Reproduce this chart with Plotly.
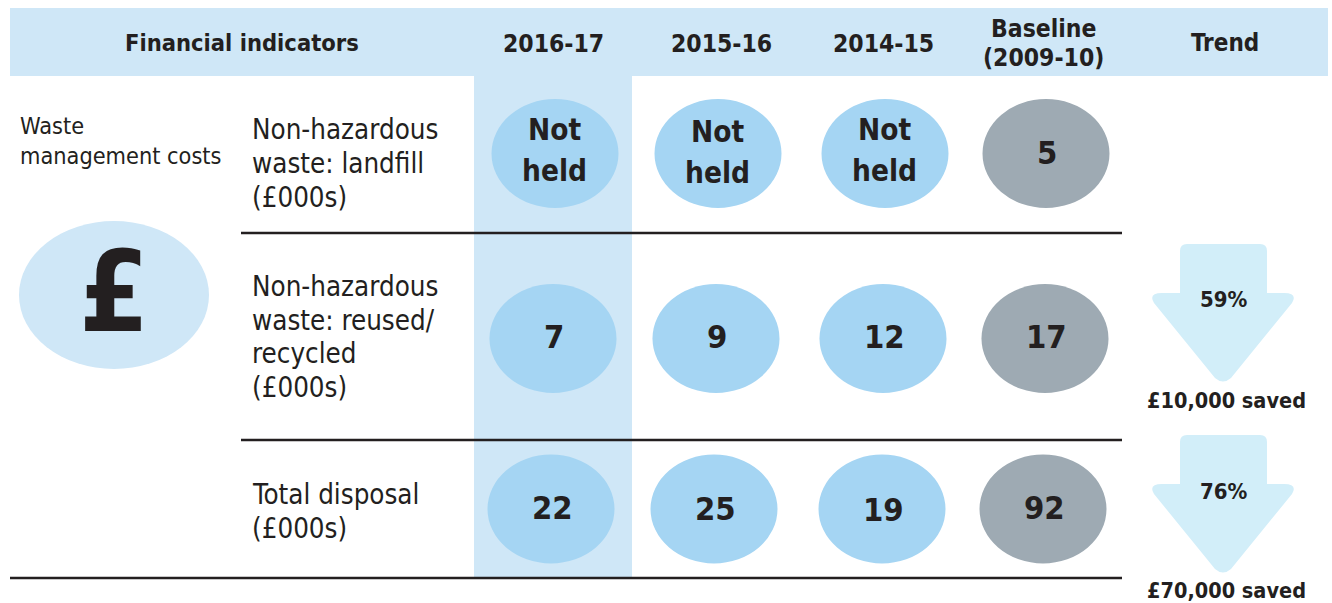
import plotly.graph_objects as go

title = "Financial indicators"
periods = ["2016-17", "2015-16", "2014-15", "Baseline<br>(2009-10)"]
trend_title = "Trend"
group_label = "Waste<br>management costs"
symbol = "£"
row_labels = ["Non-hazardous<br>waste: landfill<br>(£000s)",
              "Non-hazardous<br>waste: reused/<br>recycled<br>(£000s)",
              "Total disposal<br>(£000s)"]
row_values = [["Not<br>held", "Not<br>held", "Not<br>held", "5"],
              ["7", "9", "12", "17"],
              ["22", "25", "19", "92"]]
trend_pct = ["59%", "76%"]
trend_saved = ["£10,000 saved", "£70,000 saved"]

# layout (pixel grid)
FONT = "DejaVu Sans Condensed, DejaVu Sans"
INK = "#231f20"
BAND = "#cfe7f7"
BLUE = "#a5d5f3"
GREY = "#9eaab3"
ARROW = "#d2eef9"
head_x = [553, 721, 883, 1043.5]
cell_x = [[555, 718, 885, 1046], [553, 716, 883, 1045], [551, 714, 882, 1043]]
cell_y = [153.5, 338.5, 509]
text_y = [[150.5, 152.5, 150.5, 152.5], [337, 337, 337, 337], [508, 509, 510, 508]]
cell_rx, cell_ry = 63.5, 54.5
label_y = [163, 336.5, 511]
arrow_top = [244, 435]

shapes, ann = [], []

def rect(x0, y0, x1, y1, color):
    shapes.append(dict(type="rect", x0=x0, y0=y0, x1=x1, y1=y1, fillcolor=color,
                       line_width=0, layer="below"))

def line(x0, x1, y):
    shapes.append(dict(type="line", x0=x0, x1=x1, y0=y, y1=y,
                       line=dict(color=INK, width=2.5)))

def text(x, y, s, size, bold=False, anchor="center", lh=None):
    parts = s.split("<br>")
    lh = lh or size * 1.3
    y0 = y - lh * (len(parts) - 1) / 2
    for i, part in enumerate(parts):
        t = f"<b>{part}</b>" if bold else part
        ann.append(dict(x=x, y=y0 + i * lh, text=t, showarrow=False, xanchor=anchor,
                        yanchor="middle", font=dict(family=FONT, size=size, color=INK)))

rect(10, 8, 1328, 76, BAND)
rect(474, 76, 632, 579, BAND)
line(241, 1122, 233)
line(241, 1122, 440)
line(10, 1122, 578)

text(241.5, 43, title, 23.5, True)
for x, p in zip(head_x, periods):
    text(x, 43, p, 24.5, True, lh=29)
text(1225, 43, trend_title, 24, True)

text(18, 140.5, group_label, 23.3, anchor="left", lh=30)
shapes.append(dict(type="circle", x0=19, x1=209, y0=221, y1=369, fillcolor=BAND, line_width=0))
text(114, 292, symbol, 112, True)

for r, vals in enumerate(row_values):
    text(250, label_y[r], row_labels[r], 27.5, anchor="left", lh=33.7)
    for c, v in enumerate(vals):
        cx, cy = cell_x[r][c], cell_y[r]
        shapes.append(dict(type="circle", x0=cx - cell_rx, x1=cx + cell_rx,
                           y0=cy - cell_ry, y1=cy + cell_ry,
                           fillcolor=GREY if c == 3 else BLUE, line_width=0))
        is_note = "<br>" in v
        text(cx - (1 if is_note else -1), text_y[r][c], v, 29.5 if is_note else 32.5, True, lh=41)

for i, (top, pct, saved) in enumerate(zip(arrow_top, trend_pct, trend_saved)):
    s = top - 244
    p = (f"M 1187,{244+s} L 1260,{244+s} Q 1267,{244+s} 1267,{251+s} L 1267,{293+s} "
         f"L 1284,{293+s} Q 1298,{293+s} 1292,{303+s} L 1231,{378+s} Q 1223,{385+s} 1215,{378+s} "
         f"L 1154,{303+s} Q 1148,{293+s} 1162,{293+s} L 1180,{293+s} L 1180,{251+s} "
         f"Q 1180,{244+s} 1187,{244+s} Z")
    shapes.append(dict(type="path", path=p, fillcolor=ARROW, line_width=0, layer="below"))
    text(1223.5, 299 + s + i, pct, 22, True)
    text(1226.5, [400, 590][i], saved, 21.5, True)

fig = go.Figure()
fig.update_layout(
    width=1332, height=603, margin=dict(l=0, r=0, t=0, b=0),
    paper_bgcolor="white", plot_bgcolor="white", showlegend=False,
    xaxis=dict(range=[0, 1332], visible=False, fixedrange=True),
    yaxis=dict(range=[603, 0], visible=False, fixedrange=True),
    shapes=shapes, annotations=ann,
)
fig.write_html("out.html", config=dict(displayModeBar=False),
               post_script="document.body.style.margin='0';document.body.style.overflow='hidden';")
